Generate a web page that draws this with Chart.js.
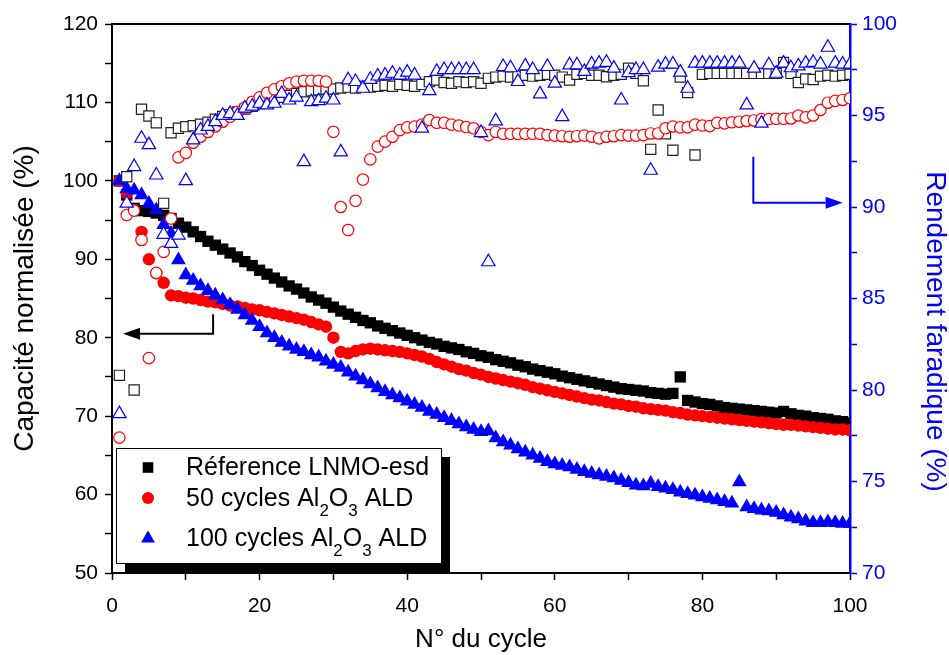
<!DOCTYPE html>
<html lang="fr">
<head>
  <meta charset="UTF-8" />
  <title>Capacité normalisée et rendement faradique</title>
  <script src="https://cdn.jsdelivr.net/npm/chart.js"></script>
  <style>
    html, body { margin: 0; padding: 0; background: #fff; }
    #wrap { width: 949px; height: 655px; }
  </style>
</head>
<body>
  <div id="wrap"><canvas id="cycleChart" width="949" height="655"></canvas></div>

  <script>
    // numéros de cycle
    const cycles = [1,2,3,4,5,6,7,8,9,10,11,12,13,14,15,16,17,18,19,20,
      21,22,23,24,25,26,27,28,29,30,31,32,33,34,35,36,37,38,39,40,
      41,42,43,44,45,46,47,48,49,50,51,52,53,54,55,56,57,58,59,60,
      61,62,63,64,65,66,67,68,69,70,71,72,73,74,75,76,77,78,79,80,
      81,82,83,84,85,86,87,88,89,90,91,92,93,94,95,96,97,98,99,100];

    // capacité normalisée (%) - axe de gauche
    const capRef = [100.0,98.2,96.5,96.2,96.1,95.9,95.6,95.2,94.6,94.1,
      93.5,92.9,92.3,91.8,91.3,90.8,90.3,89.7,89.2,88.6,
      88.1,87.6,87.1,86.6,86.2,85.7,85.2,84.8,84.4,83.9,
      83.4,83.0,82.6,82.2,81.9,81.5,81.2,80.9,80.6,80.3,
      80.0,79.7,79.4,79.2,78.9,78.7,78.5,78.2,78.0,77.7,
      77.5,77.2,77.0,76.8,76.5,76.3,76.0,75.8,75.6,75.4,
      75.1,74.9,74.7,74.5,74.3,74.1,73.9,73.7,73.5,73.4,
      73.3,73.2,73.0,72.9,72.8,72.9,75.0,72.0,71.8,71.6,
      71.5,71.3,71.1,71.0,70.9,70.8,70.7,70.6,70.5,70.4,
      70.6,70.3,70.1,70.0,69.8,69.7,69.6,69.4,69.3,69.1];
    const cap50 = [100.0,98.4,96.3,93.5,90.0,88.2,87.0,85.4,85.3,85.1,
      85.0,84.8,84.6,84.5,84.3,84.1,84.0,83.8,83.6,83.5,
      83.3,83.1,82.9,82.7,82.5,82.3,82.0,81.7,81.4,80.0,
      78.2,78.0,78.3,78.5,78.6,78.5,78.4,78.3,78.2,78.0,
      77.8,77.6,77.3,76.9,76.6,76.3,76.0,75.8,75.5,75.3,
      75.0,74.8,74.6,74.4,74.2,74.0,73.7,73.5,73.3,73.1,
      72.9,72.7,72.5,72.3,72.1,72.0,71.8,71.6,71.5,71.3,
      71.2,71.0,70.9,70.8,70.7,70.5,70.4,70.2,70.1,70.0,
      69.9,69.8,69.7,69.6,69.5,69.4,69.3,69.2,69.1,69.0,
      68.9,68.9,68.8,68.7,68.6,68.5,68.4,68.3,68.3,68.2];
    const cap100 = [100.0,99.0,98.8,98.2,97.1,96.3,94.4,93.3,89.9,88.0,
      87.3,86.6,86.0,85.4,84.8,84.2,83.6,82.9,82.2,81.4,
      80.6,80.0,79.4,78.9,78.5,78.2,77.8,77.5,77.0,76.6,
      76.2,75.6,75.1,74.6,74.1,73.6,73.1,72.7,72.3,71.9,
      71.5,71.1,70.6,70.2,69.8,69.4,69.0,68.6,68.3,68.0,
      68.1,67.2,66.7,66.3,65.8,65.4,65.0,64.6,64.2,63.9,
      63.7,63.5,63.2,62.9,62.7,62.5,62.3,62.1,61.8,61.5,
      61.2,61.1,61.4,61.0,60.8,60.6,60.3,60.1,59.9,59.7,
      59.5,59.3,59.1,58.9,61.6,58.4,58.2,58.0,57.9,57.7,
      57.4,57.1,56.9,56.6,56.4,56.4,56.5,56.4,56.3,56.3];

    // rendement faradique (%) - axe de droite
    const effRef = [80.8,91.65,80.0,95.34,94.97,94.6,90.2,94.06,94.3,94.39,
      94.44,94.52,94.63,94.8,94.95,95.05,95.2,95.35,95.5,95.65,
      95.8,95.9,96.0,96.1,96.2,96.3,96.35,96.4,96.45,96.45,
      96.5,96.55,96.5,96.6,96.55,96.6,96.65,96.6,96.7,96.65,
      96.6,96.7,96.85,96.94,96.8,96.76,96.85,96.8,96.85,96.76,
      97.03,97.1,97.15,97.1,97.15,97.2,97.15,97.2,97.25,97.2,
      97.1,96.94,97.25,97.3,97.2,97.2,97.12,97.2,97.25,97.58,
      97.3,96.9,93.15,95.3,94.0,93.1,97.1,96.25,92.84,97.25,
      97.3,97.3,97.3,97.3,97.3,97.3,97.3,97.3,97.3,97.3,
      97.9,97.3,96.8,97.0,96.97,97.15,97.2,97.15,97.2,97.25];
    const eff50 = [77.4,89.56,89.8,88.2,81.74,86.4,87.55,89.37,92.71,92.96,
      93.51,93.84,94.1,94.4,94.66,94.93,95.2,95.44,95.75,95.99,
      96.24,96.43,96.6,96.76,96.85,96.9,96.9,96.9,96.85,94.11,
      90.0,88.74,90.34,91.5,92.6,93.3,93.57,93.84,94.2,94.35,
      94.39,94.5,94.75,94.6,94.6,94.5,94.45,94.37,94.3,94.1,
      93.93,94.1,94.0,94.0,94.0,94.0,94.0,94.0,93.93,93.9,
      93.87,93.84,93.87,93.9,93.84,93.75,93.84,93.87,93.93,93.9,
      93.9,93.93,94.02,94.02,94.3,94.4,94.35,94.35,94.5,94.45,
      94.42,94.6,94.57,94.63,94.66,94.7,94.73,94.8,94.8,94.82,
      94.82,94.84,95.0,94.9,95.0,95.3,95.7,95.8,95.85,95.94];
    const eff100 = [78.7,90.2,92.2,93.75,93.4,91.74,88.5,88.0,88.46,91.43,
      93.66,94.2,94.4,94.66,95.0,95.1,95.0,95.4,95.5,95.66,
      95.57,95.66,96.2,95.84,96.0,92.47,95.75,95.8,95.94,95.84,
      93.0,96.94,96.85,96.48,96.97,97.15,97.2,97.3,97.2,97.36,
      97.2,94.3,96.35,97.4,97.5,97.5,97.5,97.5,97.5,94.06,
      87.0,94.7,97.67,97.6,96.85,97.7,97.5,96.17,97.67,96.76,
      94.93,97.76,97.76,97.4,97.8,97.85,97.9,97.58,95.84,97.34,
      97.5,97.5,92.0,97.63,97.8,97.8,97.36,96.48,97.85,97.85,
      97.85,97.85,97.85,97.85,97.85,95.57,97.58,94.57,97.76,97.3,
      97.85,97.6,97.7,97.85,97.9,97.8,98.72,97.85,97.8,97.8];

    const legendLabels = ["Réference LNMO-esd", "50 cycles Al_2O_3 ALD", "100 cycles Al_2O_3 ALD"];
    const rightTitle = "Rendement faradique (%)";

    // flèches (en unités des axes) : capacité -> gauche, rendement -> droite
    const arrowCap = [[13.7, 83.0], [13.7, 80.5], [1.5, 80.5]];
    const arrowEff = [[86.9, 92.74], [86.9, 90.23], [99.0, 90.23]];

    const FONT = '"Liberation Sans", Arial, sans-serif';
    const BLUE = "#0000ff";
    const RED = "#ff0000";

    function pts(values) {
      return cycles.map((c, i) => ({ x: c, y: values[i] }));
    }

    function drawShape(ctx, style, x, y, r, fill) {
      ctx.beginPath();
      if (style === "rect") {
        const s = r * Math.SQRT1_2;
        ctx.rect(x - s, y - s, 2 * s, 2 * s);
      } else if (style === "circle") {
        ctx.arc(x, y, r, 0, Math.PI * 2);
      } else {
        // triangle centré sur sa boîte
        const h = 1.5 * r, w = Math.sqrt(3) * r;
        ctx.moveTo(x, y - h / 2);
        ctx.lineTo(x + w / 2, y + h / 2);
        ctx.lineTo(x - w / 2, y + h / 2);
        ctx.closePath();
      }
      ctx.fillStyle = fill;
      ctx.fill();
    }

    function drawRich(ctx, text, x, y, size) {
      const parts = text.split(/_(\d)/);
      parts.forEach((p, i) => {
        if (i % 2 === 1) {
          ctx.font = Math.round(size * 0.68) + "px " + FONT;
          ctx.fillText(p, x, y + size * 0.38);
        } else {
          ctx.font = size + "px " + FONT;
          ctx.fillText(p, x, y);
        }
        x += ctx.measureText(p).width;
      });
    }

    function drawArrow(ctx, path, xs, ys, color) {
      const p = path.map(([a, b]) => [xs.getPixelForValue(a), ys.getPixelForValue(b)]);
      const n = p.length;
      const [tx, ty] = p[n - 1];
      const [px, py] = p[n - 2];
      const ang = Math.atan2(ty - py, tx - px);
      const headL = 17, headW = 6;
      ctx.save();
      ctx.strokeStyle = color;
      ctx.fillStyle = color;
      ctx.lineWidth = 2;
      ctx.beginPath();
      ctx.moveTo(p[0][0], p[0][1]);
      for (let i = 1; i < n - 1; i++) ctx.lineTo(p[i][0], p[i][1]);
      ctx.lineTo(tx - Math.cos(ang) * headL, ty - Math.sin(ang) * headL);
      ctx.stroke();
      ctx.beginPath();
      ctx.moveTo(tx, ty);
      ctx.lineTo(tx - Math.cos(ang) * headL - Math.sin(ang) * headW, ty - Math.sin(ang) * headL + Math.cos(ang) * headW);
      ctx.lineTo(tx - Math.cos(ang) * headL + Math.sin(ang) * headW, ty - Math.sin(ang) * headL - Math.cos(ang) * headW);
      ctx.closePath();
      ctx.fill();
      ctx.restore();
    }

    const framePlugin = {
      id: "frame",
      afterDraw(chart) {
        const { ctx, chartArea: ca, scales } = chart;
        // bord supérieur
        ctx.save();
        ctx.strokeStyle = "#000";
        ctx.lineWidth = 2;
        ctx.beginPath();
        ctx.moveTo(ca.left - 1, ca.top);
        ctx.lineTo(ca.right, ca.top);
        ctx.stroke();
        ctx.restore();

        // titre de l'axe de droite (un peu plus bas que le centre)
        ctx.save();
        ctx.translate(chart.width - 14, ca.top + ca.height / 2 + 33);
        ctx.rotate(Math.PI / 2);
        ctx.fillStyle = BLUE;
        ctx.font = "28px " + FONT;
        ctx.textAlign = "center";
        ctx.textBaseline = "middle";
        ctx.fillText(rightTitle, 0, 0);
        ctx.restore();

        drawArrow(ctx, arrowCap, scales.x, scales.y, "#000");
        drawArrow(ctx, arrowEff, scales.x, scales.y1, BLUE);

        // légende avec ombre
        const w = 325, h = 115;
        const lx = ca.left + 4, ly = ca.bottom - 10 - h;
        ctx.save();
        ctx.fillStyle = "#000";
        ctx.fillRect(lx + 9, ly + 9, w, h + 1);
        ctx.fillStyle = "#fff";
        ctx.fillRect(lx, ly, w, h);
        ctx.strokeStyle = "#000";
        ctx.lineWidth = 1;
        ctx.strokeRect(lx + 0.5, ly + 0.5, w, h);

        const rows = [
          { my: 19.5, by: 27 },
          { my: 50, by: 58 },
          { my: 88.5, by: 98 }
        ];
        const sizes = { rect: 7.5, circle: 6, triangle: 8 };
        chart.data.datasets.slice(0, 3).forEach((ds, i) => {
          drawShape(ctx, ds.pointStyle, lx + 32, ly + rows[i].my, sizes[ds.pointStyle], ds.backgroundColor);
          ctx.fillStyle = "#000";
          ctx.textBaseline = "alphabetic";
          ctx.textAlign = "left";
          drawRich(ctx, legendLabels[i], lx + 70, ly + rows[i].by, 25);
        });
        ctx.restore();
      }
    };

    const ctx = document.getElementById("cycleChart").getContext("2d");

    new Chart(ctx, {
      type: "scatter",
      data: {
        datasets: [
          { label: legendLabels[0], data: pts(capRef), yAxisID: "y", pointStyle: "rect", pointRadius: 8,
            backgroundColor: "#000", borderColor: "#000", borderWidth: 0, order: 6 },
          { label: legendLabels[1], data: pts(cap50), yAxisID: "y", pointStyle: "circle", pointRadius: 6.2,
            backgroundColor: RED, borderColor: RED, borderWidth: 0, order: 5 },
          { label: legendLabels[2], data: pts(cap100), yAxisID: "y", pointStyle: "triangle", pointRadius: 8.5,
            backgroundColor: BLUE, borderColor: BLUE, borderWidth: 0, order: 4 },
          { label: "Rendement référence", data: pts(effRef), yAxisID: "y1", pointStyle: "rect", pointRadius: 7.2,
            backgroundColor: "#fff", borderColor: "#222", borderWidth: 1.2, order: 3 },
          { label: "Rendement 50 cycles", data: pts(eff50), yAxisID: "y1", pointStyle: "circle", pointRadius: 5.7,
            backgroundColor: "#fff", borderColor: RED, borderWidth: 1.2, order: 2 },
          { label: "Rendement 100 cycles", data: pts(eff100), yAxisID: "y1", pointStyle: "triangle", pointRadius: 7.7,
            backgroundColor: "#fff", borderColor: BLUE, borderWidth: 1.2, order: 1 }
        ]
      },
      options: {
        responsive: false,
        animation: false,
        events: [],
        layout: { padding: { top: 24, left: 0, right: 0, bottom: 0 } },
        plugins: { legend: { display: false }, tooltip: { enabled: false } },
        scales: {
          x: {
            type: "linear", min: 0, max: 100,
            afterFit(s) { s.height = 82; },
            ticks: {
              stepSize: 10, autoSkip: false, maxRotation: 0, padding: 14,
              color: "#000", font: { family: FONT, size: 21 },
              callback: (v) => (v % 20 === 0 ? String(v) : "")
            },
            grid: { drawOnChartArea: false, tickLength: 7, tickWidth: 1.5, tickColor: "#000" },
            border: { display: true, color: "#000", width: 2 },
            title: { display: true, text: "N° du cycle", color: "#000", font: { family: FONT, size: 26 },
              padding: { top: 0, bottom: 0 } }
          },
          y: {
            type: "linear", position: "left", min: 50, max: 120,
            afterFit(s) { s.width = 112; },
            ticks: {
              stepSize: 5, autoSkip: false, padding: 7,
              color: "#000", font: { family: FONT, size: 21 },
              callback: (v) => (v % 10 === 0 ? String(v) : "")
            },
            grid: { drawOnChartArea: false, tickLength: 7, tickWidth: 1.5, tickColor: "#000" },
            border: { display: true, color: "#000", width: 2 },
            title: { display: true, text: "Capacité normalisée (%)", color: "#000", font: { family: FONT, size: 28 },
              padding: { top: 8, bottom: 0 } }
          },
          y1: {
            type: "linear", position: "right", min: 70, max: 100,
            afterFit(s) { s.width = 99; },
            ticks: {
              stepSize: 2.5, autoSkip: false, padding: 5,
              color: BLUE, font: { family: FONT, size: 21 },
              callback: (v) => (v % 5 === 0 ? String(v) : "")
            },
            grid: { drawOnChartArea: false, tickLength: 7, tickWidth: 1.5, tickColor: BLUE },
            border: { display: true, color: BLUE, width: 2.5 },
            title: { display: false }
          }
        }
      },
      plugins: [framePlugin]
    });
  </script>
</body>
</html>
